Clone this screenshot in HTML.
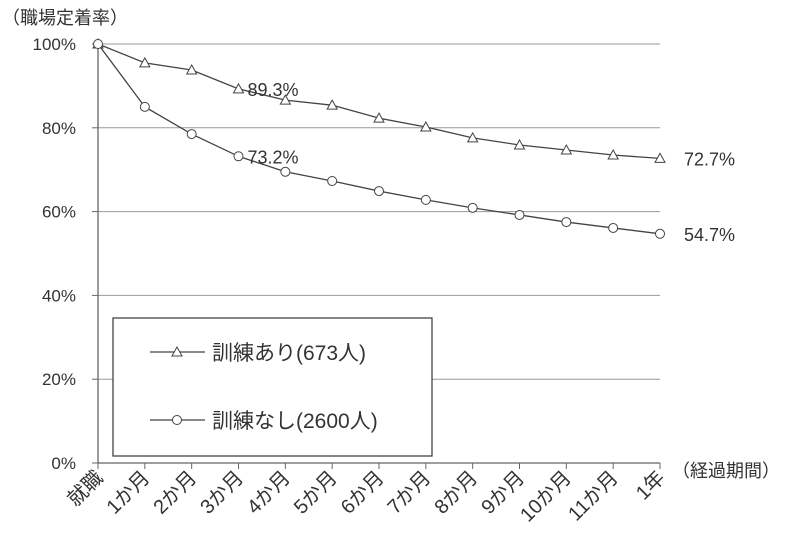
<!DOCTYPE html>
<html><head><meta charset="utf-8"><style>
body{margin:0;background:#fff}
svg text{font-family:"Liberation Sans","Noto Sans CJK JP",sans-serif;fill:#333}
</style></head><body>
<svg id="c" width="798" height="554" xmlns="http://www.w3.org/2000/svg">
<text x="2" y="24" font-size="18">（職場定着率）</text>
<text x="672" y="477" font-size="18">（経過期間）</text>
<g id="grid"></g><g id="axes"></g><g id="series"></g>
<g>
<rect x="113" y="318" width="319" height="138" fill="#fff" stroke="#444" stroke-width="1.3"/>
<g>
<line x1="150" y1="352" x2="205" y2="352" stroke="#444" stroke-width="1.3"/>
<polygon points="177,347 182,356 172,356" fill="#fff" stroke="#444"/>
<text x="212" y="360" font-size="21">訓練あり(673人)</text></g>
<g>
<line x1="150" y1="420" x2="205" y2="420" stroke="#444" stroke-width="1.3"/>
<circle cx="177" cy="420" r="4.5" fill="#fff" stroke="#444"/>
<text x="212" y="428" font-size="21">訓練なし(2600人)</text></g>
</g>
</svg>
<script>
const categories=["就職","1か月","2か月","3か月","4か月","5か月","6か月","7か月","8か月","9か月","10か月","11か月","1年"];
const trained=[100,95.5,93.8,89.3,86.6,85.4,82.3,80.2,77.6,75.9,74.7,73.5,72.7];
const untrained=[100,85.0,78.5,73.2,69.5,67.3,64.9,62.8,60.9,59.2,57.5,56.1,54.7];
const yTicks=[0,20,40,60,80,100];
const labels=[{s:"trained",i:3,t:"89.3%"},{s:"untrained",i:3,t:"73.2%"},{s:"trained",i:12,t:"72.7%"},{s:"untrained",i:12,t:"54.7%"}];
const NS="http://www.w3.org/2000/svg";
const X0=98,X1=660,Y0=463,Y1=44;
const x=i=>X0+i*(X1-X0)/(categories.length-1);
const y=v=>Y0-(v/100)*(Y0-Y1);
function mk(t,a,p){const e=document.createElementNS(NS,t);for(const k in a)e.setAttribute(k,a[k]);p.appendChild(e);return e;}
const grid=document.getElementById('grid'),axes=document.getElementById('axes'),ser=document.getElementById('series');
yTicks.forEach(v=>{
 if(v>0){const g=mk('line',{x1:X0,x2:X1,y1:y(v),y2:y(v),stroke:'#999','stroke-width':1},grid);
 
 }
 const t=mk('text',{x:76,y:y(v)+6,'font-size':17,'text-anchor':'end'},axes);t.textContent=v+'%';
 
 
 mk('line',{x1:X0-6,x2:X0,y1:y(v),y2:y(v),stroke:'#666'},axes);
});
const ya=mk('line',{x1:X0,x2:X0,y1:Y1,y2:Y0,stroke:'#666','stroke-width':1.3},axes);


const xa=mk('line',{x1:X0,x2:X1,y1:Y0,y2:Y0,stroke:'#666','stroke-width':1.3},axes);


categories.forEach((c,i)=>{
 mk('line',{x1:x(i),x2:x(i),y1:Y0,y2:Y0+6,stroke:'#666'},axes);
 const t=mk('text',{x:x(i)+6,y:Y0+16,'font-size':20,'text-anchor':'end',transform:`rotate(-45 ${x(i)+6} ${Y0+16})`},axes);
 t.textContent=c;
 
 
});
function series(vals,kind){
 const g=mk('g',{},ser);
 
 
 mk('polyline',{points:vals.map((v,i)=>x(i)+','+y(v)).join(' '),fill:'none',stroke:'#444','stroke-width':1.3},g);
 vals.forEach((v,i)=>{
  let m;
  if(kind==='trained')m=mk('polygon',{points:`${x(i)},${y(v)-5} ${x(i)+5},${y(v)+4} ${x(i)-5},${y(v)+4}`,fill:'#fff',stroke:'#444'},g);
  else m=mk('circle',{cx:x(i),cy:y(v),r:4.5,fill:'#fff',stroke:'#444'},g);
  
  
 });
}
series(trained,'trained');series(untrained,'untrained');
labels.forEach(l=>{
 const v=(l.s==='trained'?trained:untrained)[l.i];
 const end=l.i===categories.length-1;
 const t=mk('text',{x:x(l.i)+(end?24:9),y:y(v)+7,'font-size':18},ser);
 t.textContent=l.t;
 
 
});
</script>
</body></html>
